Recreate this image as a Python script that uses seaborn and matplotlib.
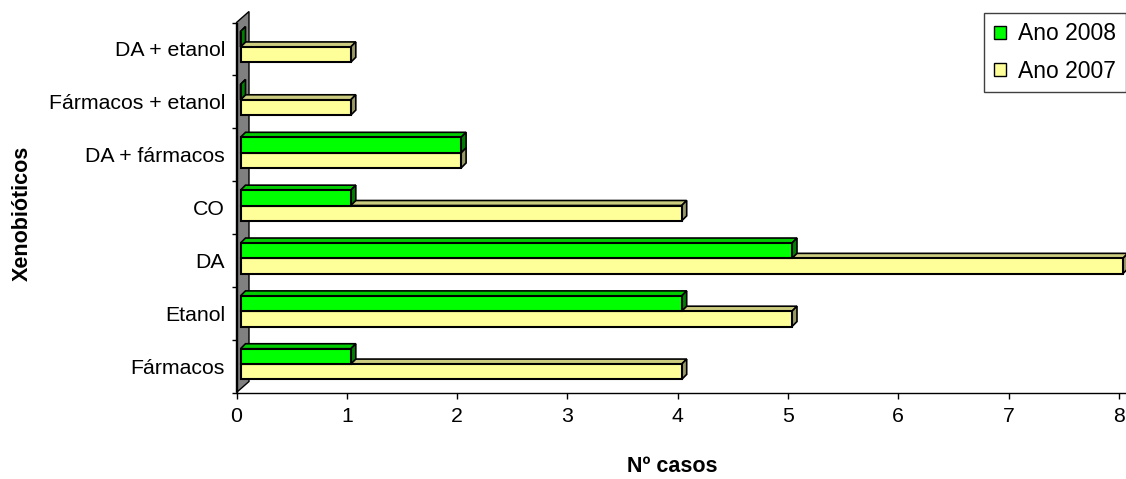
import numpy as np
import pandas as pd
import matplotlib
matplotlib.use("Agg")
import matplotlib.pyplot as plt
import seaborn as sns
from matplotlib.patches import Polygon, Patch
from matplotlib.transforms import ScaledTranslation
from matplotlib.colors import to_rgba

# Categories listed top to bottom as they appear on the axis
categorias = ["DA + etanol", "Fármacos + etanol", "DA + fármacos", "CO", "DA", "Etanol", "Fármacos"]
casos_2008 = [0, 0, 2, 1, 5, 4, 1]
casos_2007 = [1, 1, 2, 4, 8, 5, 4]
series = ["Ano 2008", "Ano 2007"]
valores_x = [0, 1, 2, 3, 4, 5, 6, 7, 8]

cores = {"Ano 2008": "#00FF00", "Ano 2007": "#FFFF99"}
cores_lado = {"Ano 2008": "#008000", "Ano 2007": "#999966"}
cores_topo = {"Ano 2008": "#00CC00", "Ano 2007": "#CCCC80"}

df = pd.DataFrame({
    "Xenobióticos": categorias * 2,
    "Nº casos": casos_2008 + casos_2007,
    "Ano": [series[0]] * len(categorias) + [series[1]] * len(categorias),
})

sns.set_theme(style="white")
plt.rcParams["font.family"] = ["Liberation Sans", "DejaVu Sans"]

W, H = 1126, 479
fig = plt.figure(figsize=(W / 100, H / 100), dpi=100)
left, right, top, bottom = 236.5, 1127.5, 22.5, 392.5
ax = fig.add_axes([left / W, 1 - bottom / H, (right - left) / W, (bottom - top) / H])

sns.barplot(data=df, y="Xenobióticos", x="Nº casos", hue="Ano", order=categorias,
            hue_order=series, palette=cores, width=0.58, orient="h", saturation=1,
            edgecolor="black", linewidth=1.5, errorbar=None, legend=False, ax=ax)

px_x = (right - left) / 8.078
px_y = (bottom - top) / len(categorias)
ax.set_xlim(0, 8.078)
ax.set_ylim(len(categorias) - 0.5, -0.5)

# Bars sit slightly in front of the back wall: shift them a few pixels
shift = ax.transData + ScaledTranslation(4 / 100, 2 / 100, fig.dpi_scale_trans)
dx = 5 / px_x
dy = 5 / px_y

ordem_z = {"Ano 2007": 2.0, "Ano 2008": 2.4}
for p in list(ax.patches):
    fc = p.get_facecolor()
    serie = None
    for s in series:
        if np.allclose(fc, to_rgba(cores[s])):
            serie = s
    if serie is None:
        continue
    z = ordem_z[serie]
    p.set_transform(shift)
    p.set_zorder(z + 0.2)
    x0, w, y0, h = p.get_x(), p.get_width(), p.get_y(), p.get_height()
    topo = Polygon([(x0, y0), (x0 + w, y0), (x0 + w + dx, y0 - dy), (x0 + dx, y0 - dy)],
                   closed=True, facecolor=cores_topo[serie], edgecolor="black",
                   linewidth=1.2, transform=shift, zorder=z, clip_on=False)
    lado = Polygon([(x0 + w, y0), (x0 + w + dx, y0 - dy), (x0 + w + dx, y0 + h - dy), (x0 + w, y0 + h)],
                   closed=True, facecolor=cores_lado[serie], edgecolor="black",
                   linewidth=1.2, transform=shift, zorder=z + 0.1, clip_on=False)
    ax.add_patch(topo)
    ax.add_patch(lado)

# Grey back wall behind the bars
wdx = 12.5 / px_x
wdy = 11 / px_y
n = len(categorias)
parede = Polygon([(0, n - 0.5), (0, -0.5), (wdx, -0.5 - wdy), (wdx, n - 0.5 - wdy)],
                 closed=True, facecolor="#808080", edgecolor="black", linewidth=1.0,
                 zorder=1.5, clip_on=False)
ax.add_patch(parede)

# Axes styling
for s in ["top", "right"]:
    ax.spines[s].set_visible(False)
for s in ["left", "bottom"]:
    ax.spines[s].set_color("black")
    ax.spines[s].set_linewidth(1.0)

ax.set_xticks(valores_x)
ax.set_xticklabels([str(v) for v in valores_x])
ax.tick_params(axis="x", bottom=True, length=4.3, width=1, direction="out",
               color="black", labelcolor="black", labelsize=15.3, pad=6)
ax.set_yticks(range(n))
ax.set_yticks(np.arange(-0.5, n, 1.0), minor=True)
ax.tick_params(axis="y", which="major", left=True, length=0, labelcolor="black",
               labelsize=15.3, pad=8.3)
ax.tick_params(axis="y", which="minor", left=True, length=3.6, width=1, color="black")

ax.set_xlabel("Nº casos", fontsize=15.5, fontweight="bold", color="black")
ax.set_ylabel("Xenobióticos", fontsize=15.5, fontweight="bold", color="black")
ax.xaxis.set_label_coords((672 - left) / (right - left), -(456 - bottom) / (bottom - top))
ax.yaxis.set_label_coords(-(left - 33) / (right - left), 0.485)

handles = [Patch(facecolor=cores[s], edgecolor="black", linewidth=1) for s in series]
leg = fig.legend(handles, series, loc="upper left", bbox_to_anchor=(984 / W, 1 - 12.7 / H),
                 fontsize=16.5, frameon=True, fancybox=False, edgecolor="#404040",
                 framealpha=1, handlelength=0.52, handleheight=0.52, handletextpad=0.55,
                 borderpad=0.42, labelspacing=0.62, borderaxespad=0)
leg.get_frame().set_linewidth(1)
for t in leg.get_texts():
    t.set_color("black")

fig.savefig("out.png", dpi=100)
